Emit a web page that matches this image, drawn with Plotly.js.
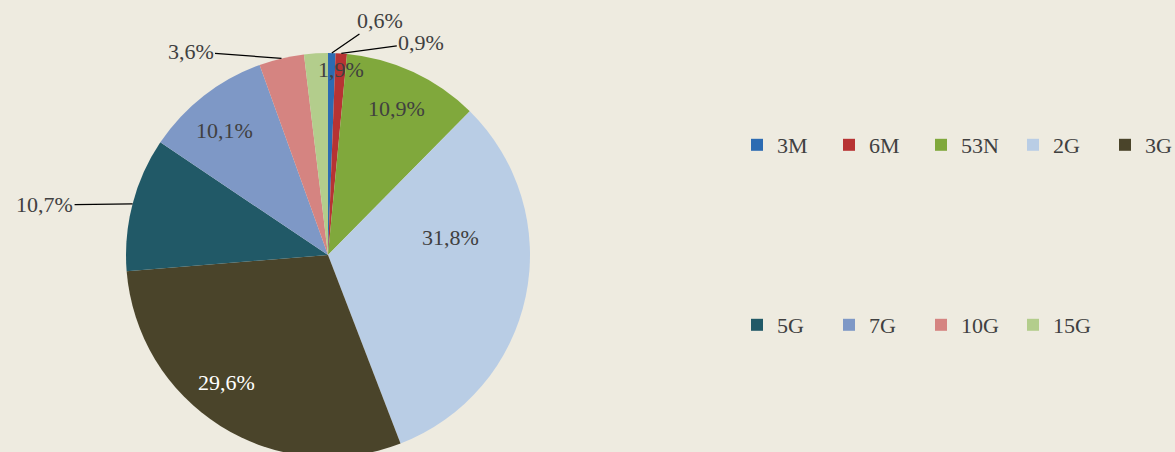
<!DOCTYPE html>
<html>
<head>
<meta charset="utf-8">
<script src="https://cdn.plot.ly/plotly-3.0.1.min.js"></script>
<style>
html, body { margin: 0; padding: 0; background: #EEEBE0; overflow: hidden; }
#chart { width: 1175px; height: 460px; }
</style>
</head>
<body>
<div id="chart"></div>
<script>
// ---- data ----
const labels = ['3M', '6M', '53N', '2G', '3G', '5G', '7G', '10G', '15G'];
const values = [0.6, 0.9, 10.9, 31.8, 29.6, 10.7, 10.1, 3.6, 1.9];
const colors = ['#2C6BB2', '#B73333', '#80A83C', '#B9CDE5', '#4A442A', '#215967', '#7E98C6', '#D58481', '#B3CD8C'];
const textColors = ['#404040', '#404040', '#404040', '#404040', '#FFFFFF', '#404040', '#404040', '#404040', '#404040'];
const row1 = labels.slice(0, 5);
const row2 = labels.slice(5);

// ---- layout constants ----
const W = 1175, H = 460;
const dom = { x: [126 / W, 530 / W], y: [(H - 457) / H, (H - 53) / H] };
const FONT = 'Liberation Serif, Times New Roman, serif';

// main pie (labels drawn as annotations below)
const main = {
  type: 'pie',
  labels: labels,
  values: values,
  sort: false,
  direction: 'clockwise',
  rotation: 0,
  domain: dom,
  marker: { colors: colors, line: { width: 0 } },
  textinfo: 'none',
  showlegend: false,
  hoverinfo: 'label+value'
};

// legend-only helper pies (drawn off-view), one per legend row
function legendPie(idx, legendName) {
  return {
    type: 'pie',
    labels: idx.map(i => labels[i]),
    values: idx.map(i => values[i]),
    sort: false,
    marker: { colors: idx.map(i => colors[i]), line: { width: 0 } },
    textinfo: 'none',
    hoverinfo: 'skip',
    domain: { x: [0, 0.0005], y: [0, 0.0005] },
    legend: legendName,
    showlegend: true
  };
}
const idx1 = row1.map(l => labels.indexOf(l));
const idx2 = row2.map(l => labels.indexOf(l));

// geometry of the pie for label placement
const cxp = (dom.x[0] + dom.x[1]) / 2 * W;
const cyp = H - (dom.y[0] + dom.y[1]) / 2 * H;
const R = Math.min((dom.x[1] - dom.x[0]) * W, (dom.y[1] - dom.y[0]) * H) / 2;
const total = values.reduce((a, b) => a + b, 0);
const cum = [];
values.reduce((acc, v, i) => { cum[i] = acc + v / 2; return acc + v; }, 0);
function at(i, rf) {
  const ang = cum[i] / total * 2 * Math.PI;
  const px = cxp + R * rf * Math.sin(ang);
  const py = cyp - R * rf * Math.cos(ang);
  return { x: px / W, y: (H - py) / H };
}
const fmt = v => v.toFixed(1).replace('.', ',') + '%';
const labelFont = c => ({ family: FONT, size: 22, color: c });

// outside labels with leader lines
const outside = [
  { i: 0, ax: 48, ay: -33 },
  { i: 1, ax: 80, ay: -11 },
  { i: 7, ax: -91, ay: -7 },
  { i: 5, ax: -88, ay: 1 }
];
const annotations = outside.map(o => {
  const p = at(o.i, 1);
  return {
    x: p.x, y: p.y, xref: 'paper', yref: 'paper',
    text: fmt(values[o.i]),
    showarrow: true, arrowhead: 0, arrowwidth: 1.3, arrowcolor: '#000000',
    ax: o.ax, ay: o.ay, standoff: 0, startstandoff: 0,
    font: labelFont(textColors[o.i])
  };
});
// inside labels
const inside = [
  { i: 2, rf: 0.8, dx: 0, dy: 0 },
  { i: 3, rf: 0.615, dx: 1, dy: 43 },
  { i: 4, rf: 0.8, dx: -15, dy: 9 },
  { i: 6, rf: 0.8, dx: -4, dy: -3 },
  { i: 8, rf: 0.91, dx: 24, dy: 2 }
];
inside.forEach(o => {
  const p = at(o.i, o.rf);
  annotations.push({
    x: p.x, y: p.y, xref: 'paper', yref: 'paper',
    xanchor: 'center', yanchor: 'middle',
    text: fmt(values[o.i]), showarrow: false, xshift: o.dx, yshift: o.dy,
    font: labelFont(textColors[o.i])
  });
});

const legendCommon = {
  orientation: 'h',
  xanchor: 'left',
  yanchor: 'middle',
  font: { family: FONT, size: 22, color: '#404040' },
  bgcolor: 'rgba(0,0,0,0)',
  entrywidth: 47,
  entrywidthmode: 'pixels',
  itemclick: false,
  itemdoubleclick: false
};

const layout = {
  width: W,
  height: H,
  margin: { l: 0, r: 0, t: 0, b: 0, autoexpand: false },
  paper_bgcolor: '#EEEBE0',
  plot_bgcolor: '#EEEBE0',
  separators: ', ',
  font: { family: FONT, color: '#404040' },
  showlegend: true,
  legend: Object.assign({}, legendCommon, { x: 737 / W, y: (H - 145) / H }),
  legend2: Object.assign({}, legendCommon, { x: 737 / W, y: (H - 325) / H }),
  annotations: annotations
};

Plotly.newPlot('chart', [main, legendPie(idx1, 'legend'), legendPie(idx2, 'legend2')], layout, { displayModeBar: false, staticPlot: true });
</script>
</body>
</html>
